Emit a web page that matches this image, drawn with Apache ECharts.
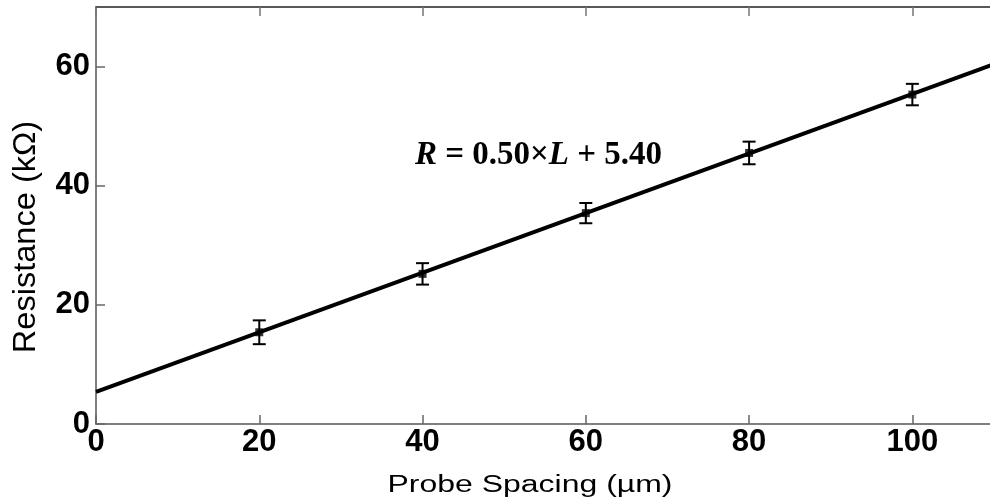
<!DOCTYPE html>
<html>
<head>
<meta charset="utf-8">
<script src="https://cdn.jsdelivr.net/npm/echarts@6/dist/echarts.min.js"></script>
<style>
  html, body { margin: 0; padding: 0; background: #fff; }
  #chart { width: 990px; height: 504px; }
</style>
</head>
<body>
<div id="chart"></div>
<script>
// Measured resistance versus probe spacing, with error bars
const spacing = [20, 40, 60, 80, 100];
const resistance = [15.4, 25.2, 35.4, 45.5, 55.3];
const errors = [2.0, 1.8, 1.7, 1.9, 1.8];

// Linear fit R = slope * L + intercept
const slope = 0.50;
const intercept = 5.40;
const fitRange = [0, 110];

const xTicks = [0, 20, 40, 60, 80, 100];
const yTicks = [0, 20, 40, 60];

const xTitle = 'Probe Spacing (µm)';
const yTitle = 'Resistance (kΩ)';

const points = spacing.map((x, i) => [x, resistance[i]]);
const bars = spacing.map((x, i) => [x, resistance[i] - errors[i], resistance[i] + errors[i]]);
const fitLine = fitRange.map(x => [x, slope * x + intercept]);

const sans = '"Liberation Sans", Arial, sans-serif';
const labelFont = { color: '#000', fontSize: 31, fontWeight: 'bold', fontFamily: sans };

const chart = echarts.init(document.getElementById('chart'), null, { renderer: 'canvas' });

chart.setOption({
  animation: false,
  backgroundColor: '#fff',
  grid: { left: 96, top: 7, width: 898, height: 417, containLabel: false, outerBoundsMode: 'none' },
  xAxis: [
    {
      type: 'value', min: 0, max: 110, interval: 20, position: 'bottom',
      axisLine: { lineStyle: { color: '#555', width: 1.5 } },
      axisTick: { inside: true, length: 9, lineStyle: { color: '#666', width: 1.5 } },
      axisLabel: Object.assign({ margin: 3, showMaxLabel: false,
        formatter: v => xTicks.includes(v) ? String(v) : '' }, labelFont),
      splitLine: { show: false }
    },
    {
      type: 'value', min: 0, max: 110, interval: 20, position: 'top',
      axisLine: { lineStyle: { color: '#222', width: 1.5 } },
      axisTick: { inside: true, length: 9, lineStyle: { color: '#777', width: 1.5 } },
      axisLabel: { show: false },
      splitLine: { show: false }
    }
  ],
  yAxis: {
    type: 'value', min: 0, max: 70, interval: 20,
    axisLine: { lineStyle: { color: '#555', width: 1.5 } },
    axisTick: { inside: true, length: 9, lineStyle: { color: '#666', width: 1.5 } },
    axisLabel: Object.assign({ margin: 6, showMaxLabel: false,
      formatter: v => yTicks.includes(v) ? String(v) : '' }, labelFont),
    splitLine: { show: false }
  },
  series: [
    {
      type: 'line', data: fitLine, showSymbol: false, symbol: 'none',
      lineStyle: { color: '#000', width: 4 }, z: 2
    },
    {
      type: 'custom', data: bars, z: 3,
      renderItem: (params, api) => {
        const x = api.value(0);
        const lo = api.coord([x, api.value(1)]);
        const hi = api.coord([x, api.value(2)]);
        const cap = 6.5;
        const style = { stroke: '#000', lineWidth: 2 };
        return {
          type: 'group',
          children: [
            { type: 'line', shape: { x1: lo[0], y1: lo[1], x2: hi[0], y2: hi[1] }, style },
            { type: 'line', shape: { x1: lo[0] - cap, y1: lo[1], x2: lo[0] + cap, y2: lo[1] }, style },
            { type: 'line', shape: { x1: hi[0] - cap, y1: hi[1], x2: hi[0] + cap, y2: hi[1] }, style }
          ]
        };
      }
    },
    {
      type: 'scatter', data: points, symbol: 'rect', symbolSize: 8,
      itemStyle: { color: '#000' }, z: 4
    }
  ],
  graphic: [
    // axis titles (wide sans lettering)
    {
      type: 'text', x: 530, y: 486, scaleX: 1.39, z: 10,
      style: { text: xTitle, fill: '#000', font: '23px ' + sans, align: 'center', verticalAlign: 'middle' }
    },
    {
      type: 'text', x: 26, y: 237, rotation: Math.PI / 2, scaleX: 1.05, z: 10,
      style: { text: yTitle, fill: '#000', font: '31px ' + sans, align: 'center', verticalAlign: 'middle' }
    },
    // fit equation
    {
      type: 'text', left: 415, top: 139, z: 10,
      style: {
        text: '{i|R} = 0.50×{i|L} + 5.40',
        fill: '#000',
        font: 'bold 33px "Liberation Serif", "Times New Roman", serif',
        rich: {
          i: { fontStyle: 'italic', fontWeight: 'bold', fontSize: 33, fontFamily: '"Liberation Serif", "Times New Roman", serif' }
        }
      }
    }
  ]
});
</script>
</body>
</html>
